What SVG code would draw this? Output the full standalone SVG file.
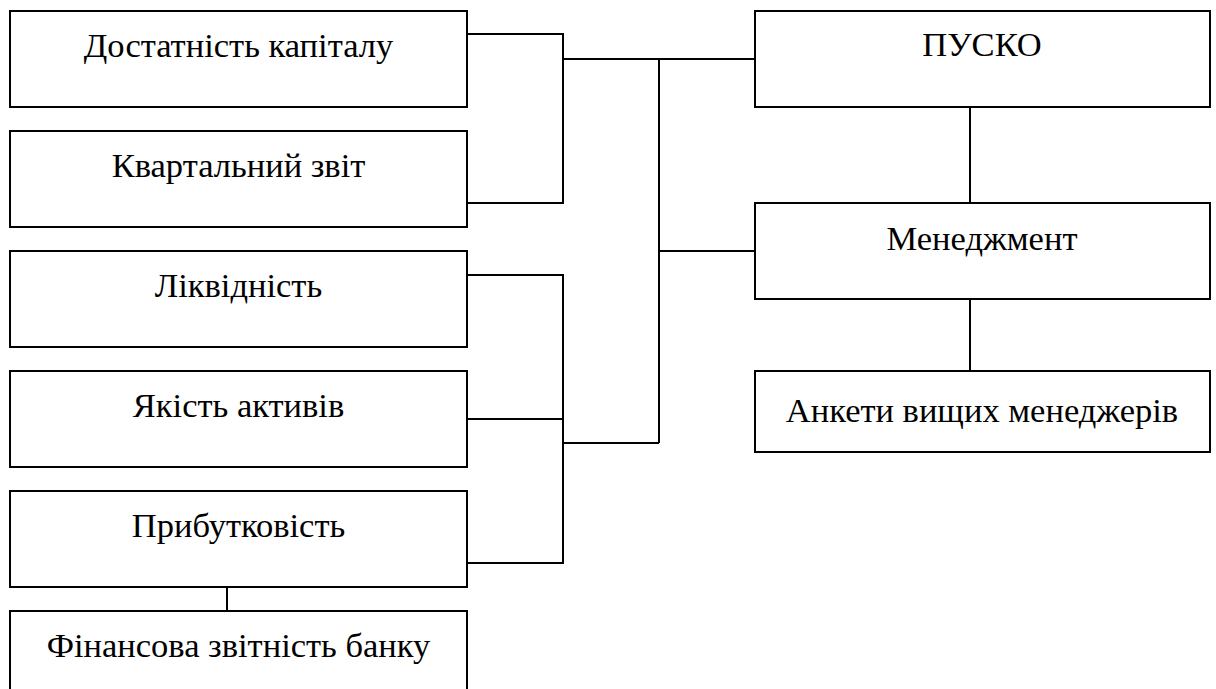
<svg xmlns="http://www.w3.org/2000/svg" width="1216" height="689" viewBox="0 0 1216 689">
<style>
.box{fill:#fff;stroke:#000;stroke-width:2}
.lbl{font-family:"Liberation Serif","Times New Roman",serif;font-size:34.5px;fill:#000;text-anchor:middle}
.con{fill:none;stroke:#000;stroke-width:2}
</style>
<rect width="1216" height="689" fill="#fff"/>
<g id="connectors">
<polyline class="con" points="467,34 563,34 563,203 467,203"/>
<line class="con" x1="563" y1="59" x2="755" y2="59"/>
<polyline class="con" points="467,275 563,275 563,563 467,563"/>
<line class="con" x1="467" y1="419" x2="563" y2="419"/>
<line class="con" x1="563" y1="443" x2="659" y2="443"/>
<line class="con" x1="659" y1="59" x2="659" y2="443"/>
<line class="con" x1="659" y1="251" x2="755" y2="251"/>
<line class="con" x1="970" y1="107" x2="970" y2="203"/>
<line class="con" x1="970" y1="299" x2="970" y2="371"/>
<line class="con" x1="227" y1="587" x2="227" y2="611"/>
</g>
<g id="n1"><rect class="box" x="10" y="11" width="457" height="96"/><text class="lbl" x="238.5" y="57">Достатність капіталу</text></g>
<g id="n2"><rect class="box" x="10" y="131" width="457" height="96"/><text class="lbl" x="238.5" y="177">Квартальний звіт</text></g>
<g id="n3"><rect class="box" x="10" y="251" width="457" height="96"/><text class="lbl" x="238.5" y="297">Ліквідність</text></g>
<g id="n4"><rect class="box" x="10" y="371" width="457" height="96"/><text class="lbl" x="238.5" y="417">Якість активів</text></g>
<g id="n5"><rect class="box" x="10" y="491" width="457" height="96"/><text class="lbl" x="238.5" y="537">Прибутковість</text></g>
<g id="n6"><rect class="box" x="10" y="611" width="457" height="100"/><text class="lbl" x="238.5" y="657">Фінансова звітність банку</text></g>
<g id="n7"><rect class="box" x="755" y="11" width="455" height="96"/><text class="lbl" x="982" y="56">ПУСКО</text></g>
<g id="n8"><rect class="box" x="755" y="203" width="455" height="96"/><text class="lbl" x="982" y="250">Менеджмент</text></g>
<g id="n9"><rect class="box" x="755" y="371" width="455" height="81"/><text class="lbl" x="982" y="422">Анкети вищих менеджерів</text></g>
</svg>
